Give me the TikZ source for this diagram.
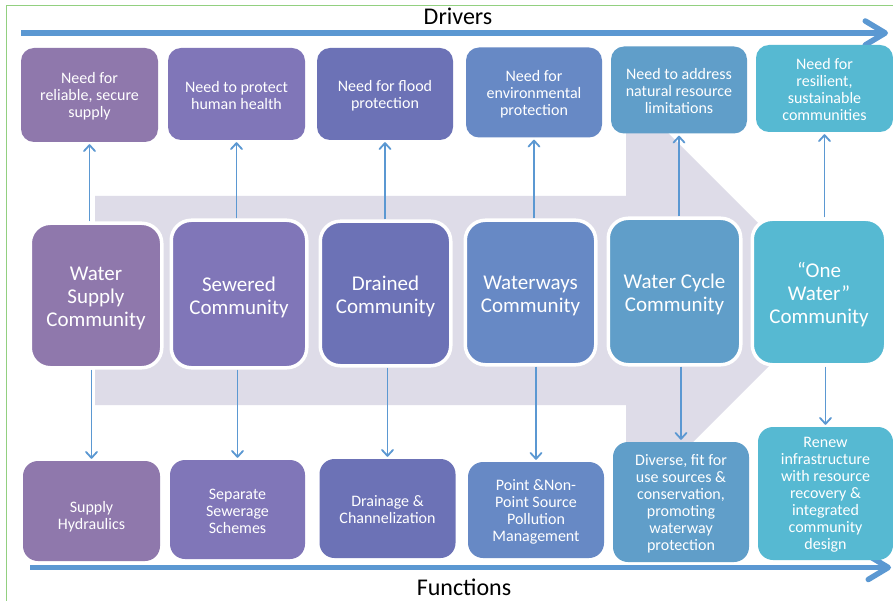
\documentclass[tikz,border=0pt]{standalone}
\usepackage{fontspec}
\setmainfont{Carlito}
\usetikzlibrary{arrows.meta}
\definecolor{cA}{RGB}{143,120,172}
\definecolor{cB}{RGB}{128,118,184}
\definecolor{cC}{RGB}{108,114,182}
\definecolor{cD}{RGB}{103,137,197}
\definecolor{cE}{RGB}{96,158,201}
\definecolor{cF}{RGB}{86,185,210}
\definecolor{lav}{RGB}{222,220,232}
\definecolor{arrblue}{RGB}{91,152,210}
\definecolor{frame}{RGB}{146,208,128}
\begin{document}
\begin{tikzpicture}[x=1pt,y=-1pt,
  topbox/.style={rounded corners=13pt, fill=#1, inner sep=0pt},
  midbox/.style={rounded corners=20pt, fill=#1, draw=white, line width=3.5pt, inner sep=0pt},
  botbox/.style={rounded corners=15pt, fill=#1, inner sep=0pt},
  stext/.style={text=white, align=center, inner sep=0pt, yshift=-1.5pt,
     font=\fontsize{16}{17}\selectfont},
  mtext/.style={text=white, align=center, inner sep=0pt, yshift=-3pt,
     font=\fontsize{21}{23}\selectfont},
  thinarrow/.style={draw=arrblue, line width=1.4pt, shorten >=2pt,
     -{Straight Barb[length=6pt,width=11pt,line width=1.8pt,round]}},
  bigarrow/.style={draw=arrblue, line width=5.5pt,
     -{Straight Barb[length=20pt,width=24pt,line width=5.5pt,round]}},
  title/.style={font=\fontsize{24}{24}\selectfont, text=black, anchor=base, inner sep=0pt}
]
\useasboundingbox (0,0) rectangle (893,601);
\fill[white] (0,0) rectangle (893,601);
% frame
\draw[frame, line width=1.2pt] (6.5,601) -- (6.5,5.5) -- (893,5.5);
% background big arrow
\fill[lav] (95,196) -- (626,196) -- (626,91) -- (835,300) -- (626,509) -- (626,405) -- (95,405) -- cycle;

% drivers / functions arrows
\coordinate (drvL) at (21,33);
\coordinate (drvR) at (888,33);
\coordinate (fnL) at (30,567.5);
\coordinate (fnR) at (891,567.5);
\draw[bigarrow] (drvL) -- (drvR);
\draw[bigarrow] (fnL) -- (fnR);
\node[title] (drivers) at (458,25) {Drivers};
\node[title] (functions) at (464,595) {Functions};

% top row
\node[topbox=cA, minimum width=137pt, minimum height=94pt,
  label={[stext]center:Need for\\reliable, secure\\supply}] (t1) at (89.5,95) {};
\node[topbox=cB, minimum width=137pt, minimum height=92pt,
  label={[stext]center:Need to protect\\human health}] (t2) at (236.5,94) {};
\node[topbox=cC, minimum width=136pt, minimum height=92pt,
  label={[stext]center:Need for flood\\protection}] (t3) at (385,94) {};
\node[topbox=cD, minimum width=136pt, minimum height=90pt,
  label={[stext]center:Need for\\environmental\\protection}] (t4) at (534,92.5) {};
\node[topbox=cE, minimum width=136pt, minimum height=87pt,
  label={[stext]center:Need to address\\natural resource\\limitations}] (t5) at (679,90) {};
\node[topbox=cF, minimum width=137pt, minimum height=87pt,
  label={[stext]center:Need for\\resilient,\\sustainable\\communities}] (t6) at (824.5,88.5) {};

% middle row
\node[midbox=cA, minimum width=131.5pt, minimum height=144.5pt,
  label={[mtext]center:Water\\Supply\\Community}] (m1) at (96,295.5) {};
\node[midbox=cB, minimum width=135.5pt, minimum height=147.5pt,
  label={[mtext]center:Sewered\\Community}] (m2) at (239,294) {};
\node[midbox=cC, minimum width=130.5pt, minimum height=144.5pt,
  label={[mtext]center:Drained\\Community}] (m3) at (385.5,293.5) {};
\node[midbox=cD, minimum width=130.5pt, minimum height=144.5pt,
  label={[mtext]center:Waterways\\Community}] (m4) at (530.5,292.5) {};
\node[midbox=cE, minimum width=132.5pt, minimum height=146.5pt,
  label={[mtext]center:Water Cycle\\Community}] (m5) at (674.5,291.5) {};
\node[midbox=cF, minimum width=133.5pt, minimum height=145.5pt,
  label={[mtext]center:``One\\Water''\\Community}] (m6) at (819,292) {};

% bottom row
\node[botbox=cA, minimum width=137pt, minimum height=100pt,
  label={[stext,yshift=-4pt]center:Supply\\Hydraulics}] (b1) at (91.5,511) {};
\node[botbox=cB, minimum width=135pt, minimum height=99pt,
  label={[stext]center:Separate\\Sewerage\\Schemes}] (b2) at (237.5,509.5) {};
\node[botbox=cC, minimum width=136pt, minimum height=99pt,
  label={[stext]center:Drainage \&\\Channelization}] (b3) at (387.5,508.5) {};
\node[botbox=cD, minimum width=136pt, minimum height=96pt,
  label={[stext]center:Point \&Non-\\Point Source\\Pollution\\Management}] (b4) at (536,510) {};
\node[botbox=cE, minimum width=136pt, minimum height=120pt,
  label={[stext]center:Diverse, fit for\\use sources \&\\conservation,\\promoting\\waterway\\protection}] (b5) at (681,502) {};
\node[botbox=cF, minimum width=135pt, minimum height=133pt,
  label={[stext]center:Renew\\infrastructure\\with resource\\recovery \&\\integrated\\community\\design}] (b6) at (825.5,493.5) {};

% connectors
\foreach \i in {1,...,6} {
  \draw[thinarrow] (m\i.north -| t\i.south) -- (t\i.south);
  \draw[thinarrow] (m\i.south -| b\i.north) -- (b\i.north);
}
\end{tikzpicture}
\end{document}
